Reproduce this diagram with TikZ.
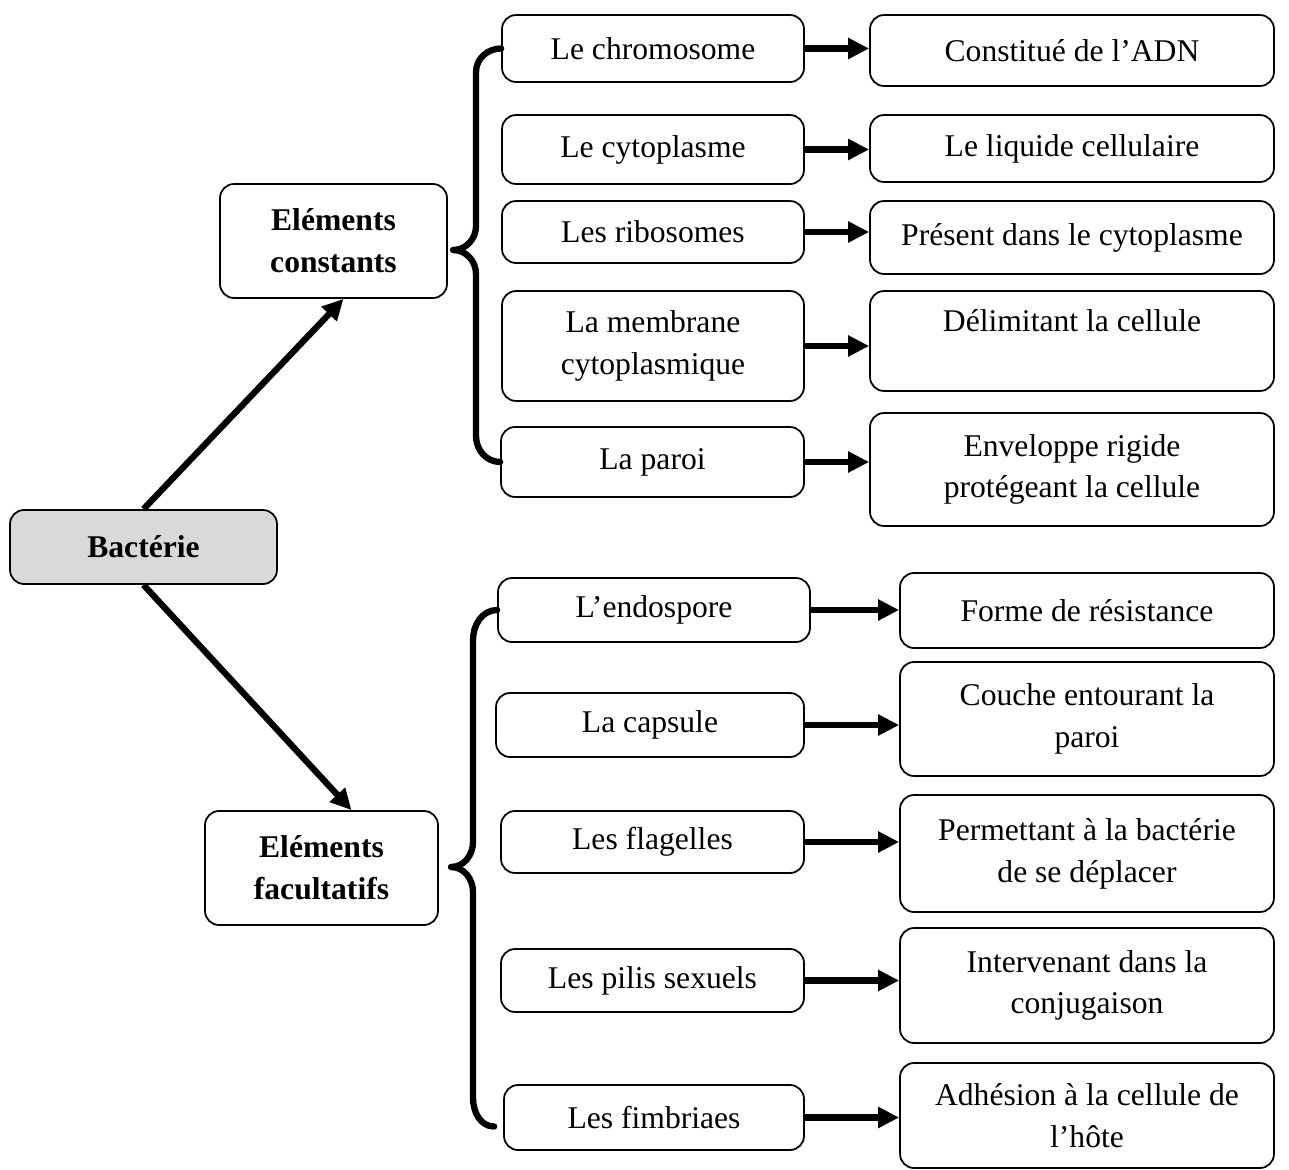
\documentclass[tikz,border=0pt]{standalone}
\usepackage{fontspec}
\setmainfont{Liberation Serif}
\usetikzlibrary{arrows.meta}
\definecolor{grisclair}{HTML}{D9D9D9}

\begin{document}
\begin{tikzpicture}[x=0.02cm, y=-0.02cm,
	boite/.style={draw, line width=1pt, rounded corners=0.28cm, align=center, inner sep=0pt, font=\fontsize{18}{23.8}\selectfont},
	titre/.style={boite, font=\fontsize{18}{23.8}\selectfont\bfseries},
	fleche/.style={line width=3.6pt, -{Triangle[length=0.42cm, width=0.4cm]}},
	accolade/.style={line width=3.6pt, line cap=round, line join=round}]
	\useasboundingbox (0,0) rectangle (1289,1170);
	\path
	node[titre, fill=grisclair, minimum width=5.34cm, minimum height=1.48cm] at (143.5,547) (bact) {Bactérie}
	node[titre, minimum width=4.54cm, minimum height=2.28cm] at (333.5,241) (const) {Eléments\\constants}
	node[titre, minimum width=4.66cm, minimum height=2.28cm] at (321.5,868) (facul) {Eléments\\facultatifs}
	% elements constants
	node[boite, minimum width=6.04cm, minimum height=1.34cm] at (653,48.5) (chrom) {Le chromosome}
	node[boite, minimum width=6.04cm, minimum height=1.38cm] at (653,149.5) (cyto) {Le cytoplasme}
	node[boite, minimum width=6.04cm, minimum height=1.24cm] at (653,232) (ribo) {Les ribosomes}
	node[boite, minimum width=6.04cm, minimum height=2.2cm] at (653,346) (memb) {La membrane\\cytoplasmique}
	node[boite, minimum width=6.06cm, minimum height=1.4cm] at (652.5,462) (paroi) {La paroi}
	node[boite, minimum width=8.08cm, minimum height=1.42cm] at (1072,50.5) (adn) {Constitué de l’ADN}
	node[boite, minimum width=8.08cm, minimum height=1.34cm] at (1072,148.5) (liq) {Le liquide cellulaire}
	node[boite, minimum width=8.08cm, minimum height=1.46cm] at (1072,237.5) (pres) {Présent dans le cytoplasme}
	node[boite, minimum width=8.08cm, minimum height=2.0cm] at (1072,341) (delim) {Délimitant la cellule\\\mbox{}}
	node[boite, minimum width=8.08cm, minimum height=2.26cm] at (1072,469.5) (envel) {Enveloppe rigide\\protégeant la cellule}
	% elements facultatifs
	node[boite, minimum width=6.24cm, minimum height=1.28cm] at (654,610) (endo) {L’endospore}
	node[boite, minimum width=6.16cm, minimum height=1.28cm] at (650,725) (caps) {La capsule}
	node[boite, minimum width=6.06cm, minimum height=1.24cm] at (652.5,842) (flag) {Les flagelles}
	node[boite, minimum width=6.06cm, minimum height=1.26cm] at (652.5,980.5) (pilis) {Les pilis sexuels}
	node[boite, minimum width=6.0cm, minimum height=1.3cm] at (654,1117.5) (fimb) {Les fimbriaes}
	node[boite, minimum width=7.48cm, minimum height=1.5cm] at (1087,610.5) (forme) {Forme de résistance}
	node[boite, minimum width=7.48cm, minimum height=2.28cm] at (1087,719) (couche) {Couche entourant la\\paroi}
	node[boite, minimum width=7.48cm, minimum height=2.34cm] at (1087,853.5) (perm) {Permettant à la bactérie\\de se déplacer}
	node[boite, minimum width=7.48cm, minimum height=2.3cm] at (1087,985.5) (inter) {Intervenant dans la\\conjugaison}
	node[boite, minimum width=7.48cm, minimum height=2.1cm] at (1087,1115.5) (adhes) {Adhésion à la cellule de\\l’hôte};

	\coordinate (pointeA) at (453,250);
	\coordinate (pointeB) at (451,867);

	\draw[fleche] (bact.north) -- ([xshift=0.2cm]const.south);
	\draw[fleche] (bact.south) -- ([xshift=0.6cm]facul.north);

	\draw[accolade] (chrom.west) to[out=180,in=90] (476,72) -- (476,226)
		to[out=-90,in=0] (pointeA) to[out=0,in=90] (476,274) -- (476,436)
		to[out=-90,in=180] (paroi.west);
	\draw[accolade] (endo.west) to[out=180,in=90] (473,640) -- (473,842)
		to[out=-90,in=0] (pointeB) to[out=0,in=90] (473,892) -- (473,1098)
		to[out=-90,in=180] ([xshift=-0.18cm,yshift=-0.18cm]fimb.west);

	\foreach \a/\b in {chrom/adn, cyto/liq, ribo/pres, memb/delim, paroi/envel,
		endo/forme, caps/couche, flag/perm, pilis/inter, fimb/adhes}
		\draw[fleche] (\a.east) -- (\a.east -| \b.west);
\end{tikzpicture}
\end{document}
